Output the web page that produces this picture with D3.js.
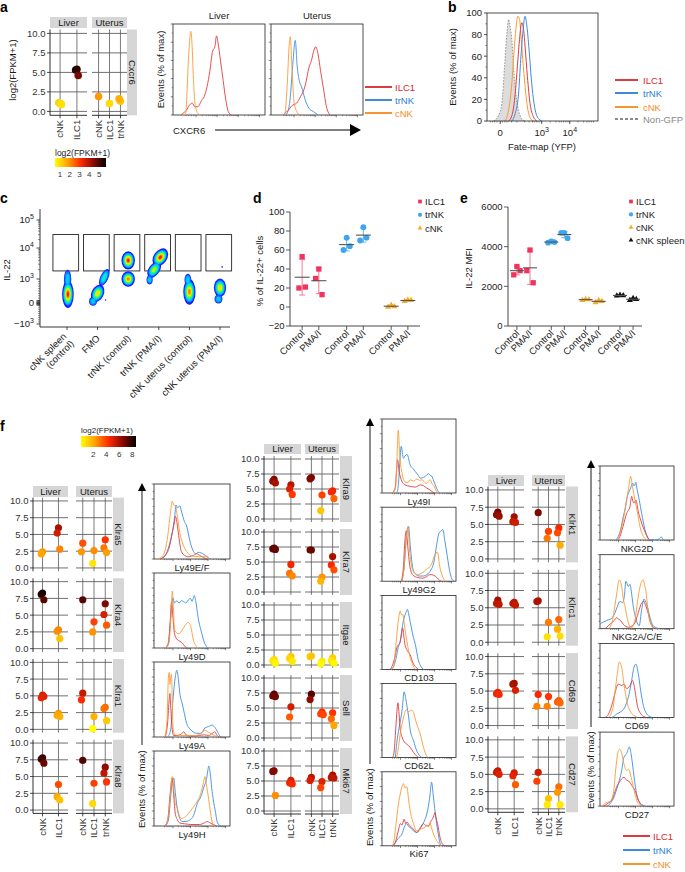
<!DOCTYPE html>
<html>
<head>
<meta charset="utf-8">
<script src="https://cdn.jsdelivr.net/npm/d3@7"></script>
<style>
  body { margin: 0; background: #fff; }
  svg { font-family: "Liberation Sans", Arial, sans-serif; }
</style>
</head>
<body>
<svg id="fig" width="685" height="872"></svg>
<script>
// ---------------- data ----------------
// panel a : RNA-seq dots (log2 FPKM+1)
const liverCats = ["cNK", "ILC1"];
const uterusCats = ["cNK", "ILC1", "trNK"];
const aGenes = ["Cxcr6"];
const aLiver = [[[1.0, 1.1, 0.9], [5.4, 5.3, 4.6]]];
const aUterus = [[[1.9], [1.0], [1.3, 1.6]]];
const aColorDomain = [0.5, 5.7];
const aColorTicks = [1, 2, 3, 4, 5];

// panel a : CXCR6 histograms, [channel %, events % of max]
const aHistLiver = {
  ILC1: [[9,0],[11,2],[14.5,5],[18,11],[21,13],[23.6,9],[27,9],[31,16],[33.8,20],[37,31],[40,48],[43,70],[45.5,75],[47.3,87],[49,79],[51.6,60],[54.5,38],[57.5,16],[60,4],[63.6,0]],
  cNK: [[11,0],[13.8,2],[15,20],[16.4,53],[18,80],[19.3,92],[20,88],[21,71],[22,45],[23,24],[24,12],[25.5,5],[27,2],[29,0]]
};
const aHistUterus = {
  ILC1: [[14,0],[15.2,2],[18.8,5],[22.4,10],[27.8,13],[32,20],[36.8,31],[41.5,53],[44,60],[46.6,71],[48.7,75],[51.3,66],[53.8,49],[56.7,31],[60.3,9],[64,0]],
  trNK: [[16,0],[17.5,2],[20.6,16],[23.5,53],[26.4,82],[28.5,53],[30.7,38],[33.2,31],[36.8,18],[41.5,7],[45.8,4],[51.3,0]],
  cNK: [[14,0],[15.2,2],[17.7,35],[19.9,79],[21,86],[22.7,53],[24.9,16],[27.8,4],[31.4,0]]
};

// panel b : fate-map histograms
const bYTicks = [0, 20, 40, 60, 80, 100];
const bXTickPos = [11.9, 49.3, 74.6];
const bXTickLabels = [["0", ""], ["10", "3"], ["10", "4"]];
const bNonGFP = [[6,0],[10.4,5],[13.4,16],[15.8,50],[17.9,81],[19.4,94],[20.9,87],[22.4,75],[23.9,50],[26,25],[28.4,10],[31.3,2],[34.3,0]];
const bCNK = [[16.4,0],[19.4,10],[22.4,35],[24.5,66],[26.3,88],[27.8,97],[29.3,94],[30.7,78],[32.2,57],[34.3,32],[36.4,13],[38.8,3],[41.8,0]];
const bILC1 = [[19.4,0],[22.4,5],[24.8,19],[26.9,44],[29,72],[31.3,91],[32.8,86],[34.3,69],[36.4,41],[38.8,16],[41.8,4],[44.8,0]];
const bTrNK = [[22.4,0],[25.4,7],[28.4,25],[30.4,57],[32.2,81],[34.3,97],[35.8,89],[37.9,66],[40,38],[42.4,16],[44.8,5],[47.8,1],[49.3,0]];

// panel c : IL-22 flow plots (y in biex display units: 3 = 10^3)
const cSamples = ["cNK spleen (control)", "FMO", "trNK (control)", "trNK (PMA/I)", "cNK uterus (control)", "cNK uterus (PMA/I)"];
const cYTicks = [-3, 0, 3, 4, 5];
const cYTickLabels = [["\u221210", "3"], ["0", ""], ["10", "3"], ["10", "4"], ["10", "5"]];
const cGate = [3.26, 4.48];
// density lobes: [dx, y, rx, ry, tilt, peak level]
const cBlobs = [
  [[0.03, 1.1, 0.19, 0.45, 0, 9], [0.02, 3.0, 0.12, 0.3, 0, 3]],
  [[0.0, 1.2, 0.2, 0.3, 25, 7], [0.22, 3.05, 0.13, 0.3, 25, 4], [-0.15, 0.2, 0.13, 0.14, 0, 3]],
  [[0.0, 3.6, 0.22, 0.3, 0, 9], [0.0, 3.0, 0.22, 0.25, 0, 8]],
  [[0.05, 3.7, 0.22, 0.32, 35, 9], [-0.15, 3.3, 0.18, 0.3, 35, 6], [-0.3, 2.9, 0.1, 0.15, 0, 3]],
  [[0.0, 1.4, 0.2, 0.42, 0, 8], [-0.05, 2.9, 0.11, 0.2, 0, 3]],
  [[0.0, 1.9, 0.2, 0.3, 0, 7], [-0.05, 0.5, 0.13, 0.15, 0, 3]]
];
const cStray = [[1, 0.26, 0.37], [5, 0.07, 3.39]];

// panel d : % IL-22+ cells
const conditions = ["Control", "PMA/I"];
const dGroups = ["ILC1", "trNK", "cNK"];
const dILC1 = [[53, 20, 21], [40, 30, 13]];
const dTrNK = [[73, 60, 64], [84, 70, 73]];
const dCNK = [[2, 0, 0.5], [7.5, 6, 7]];
const dYTicks = [-20, 0, 20, 40, 60, 80, 100];

// panel e : IL-22 MFI
const eGroups = ["ILC1", "trNK", "cNK", "cNK spleen"];
const eILC1 = [[3000, 2580, 2790], [3830, 2790, 2180]];
const eTrNK = [[4270, 4200, 4230], [4700, 4700, 4430]];
const eCNK = [[1350, 1300, 1340], [1300, 1180, 1250]];
const eCNKSpleen = [[1560, 1520, 1540], [1400, 1300, 1350]];
const eYTicks = [0, 2000, 4000, 6000];

// panel f : RNA-seq dots
const fColorDomain = [0.1, 8.6];
const fColorTicks = [2, 4, 6, 8];
const fCol1Genes = ["Klra5", "Klra4", "Klra1", "Klra8"];
const fCol1Liver = [
  [[2.4, 2.1], [6.0, 5.2, 2.8]],
  [[8.3, 8.1, 7.3], [2.8, 2.6, 1.5]],
  [[5.1, 4.7, 4.9], [2.4, 2.1, 1.9]],
  [[7.8, 7.6, 7.0], [3.8, 2.0, 1.5]]
];
const fCol1Uterus = [
  [[3.7, 2.4], [2.6, 0.7], [4.2, 3.0, 2.3]],
  [[7.3], [4.0, 2.5], [6.7, 5.1, 3.5]],
  [[5.4, 4.4], [1.9, 0.1], [3.3, 3.1, 1.3]],
  [[7.4], [4.0, 0.95], [6.4, 5.5, 4.2]]
];
const fCol2Genes = ["Klra9", "Klra7", "Itgae", "Sell", "Mki67"];
const fCol2Liver = [
  [[6.6, 6.3, 6.0], [5.7, 5.0, 4.1]],
  [[7.3, 7.2, 7.1], [4.6, 3.1, 2.7]],
  [[0.9, 0.7, 0.3], [1.4, 1.1, 0.6]],
  [[7.3, 7.0, 6.9], [5.2, 3.5]],
  [[6.7, 6.6, 2.6], [5.1, 4.7, 4.5]]
];
const fCol2Uterus = [
  [[6.9, 6.7], [4.0, 1.4], [4.7, 4.5, 3.4]],
  [[7.0, 7.0], [2.5, 1.8], [5.9, 4.5, 3.7]],
  [[1.5, 1.4], [0.6, 0.2], [1.2, 0.7, 0.3]],
  [[7.3, 6.4], [4.3, 4.0, 3.9], [4.2, 3.2, 2.1]],
  [[5.6, 5.1], [4.9, 3.9], [6.0, 5.6, 5.5]]
];
const fCol3Genes = ["Klrk1", "Klrc1", "Cd69", "Cd27"];
const fCol3Liver = [
  [[6.8, 6.4, 6.2], [6.1, 5.4, 5.3]],
  [[6.1, 5.6, 5.5], [5.8, 5.6, 5.4]],
  [[4.8, 4.6, 4.5], [6.1, 6.0, 5.1]],
  [[5.5, 5.3, 5.0], [5.2, 4.8, 3.5]]
];
const fCol3Uterus = [
  [[6.7], [4.0, 3.0], [4.5, 3.8, 2.0]],
  [[6.0, 5.9], [2.9, 0.8], [3.3, 1.9, 0.9]],
  [[4.5, 2.8], [4.2, 2.8], [3.6, 3.4, 3.3]],
  [[5.3, 4.0], [1.5, 0.6], [3.2, 2.4, 0.6]]
];

// panel f : flow histograms, [channel %, events % of max]
const hLy49EF = {
  trNK: [[8,0],[15,5],[20,15],[24,35],[27,55],[29,72],[31,68],[34,71],[36,64],[40,50],[43,44],[47,25],[51,12],[55,7],[58,9],[62,8],[66,6],[72,1],[75,0]],
  ILC1: [[8,0],[15,5],[20,18],[24,35],[27,50],[28,57],[30,50],[32,35],[36,10],[40,5],[45,3],[52,5],[56,7],[60,5],[65,2],[70,0]],
  cNK: [[5,0],[12,5],[18,30],[22,65],[24,77],[26,72],[28,71],[31,55],[34,35],[38,20],[43,10],[50,4],[60,3],[70,4],[72,0]]
};
const hLy49D = {
  trNK: [[15,0],[19,8],[22,40],[25,67],[27,60],[30,63],[33,60],[36,63],[39,62],[42,60],[45,64],[48,66],[50,62],[53,70],[55,62],[58,41],[63,19],[66,8],[69,2],[72,0]],
  ILC1: [[14,0],[19,5],[21,30],[23,61],[25,40],[27,19],[30,12],[34,9],[37,7],[40,3],[43,0]],
  cNK: [[14,0],[18,3],[21,20],[23,60],[24,76],[25,65],[27,25],[30,20],[33,19],[37,24],[41,30],[45,34],[48,30],[52,10],[56,2],[58,0]]
};
const hLy49A = {
  trNK: [[18,0],[22,10],[25,50],[28,80],[30,89],[32,78],[34,58],[37,45],[39,36],[43,18],[47,11],[50,8],[56,5],[62,5],[67,12],[72,14],[76,16],[80,13],[84,6],[87,1],[89,0]],
  ILC1: [[15,0],[18,20],[20,50],[21,58],[22,40],[24,10],[26,2],[30,2],[36,4],[39,7],[42,3],[50,1],[60,2],[66,3],[72,2],[77,5],[80,7],[83,2],[86,0]],
  cNK: [[14,0],[17,20],[19,80],[20,86],[21,70],[22,80],[23,84],[24,50],[25,15],[27,3],[35,2],[55,2],[62,5],[67,9],[72,6],[78,3],[84,0]]
};
const hLy49H = {
  trNK: [[15,0],[19,8],[22,40],[24,58],[26,64],[28,45],[31,21],[34,10],[37,6],[42,6],[47,8],[52,14],[57,30],[62,40],[66,53],[69,62],[71,75],[72,80],[74,70],[76,50],[78,35],[81,18],[83,6],[86,1],[88,0]],
  ILC1: [[14,0],[18,8],[21,40],[23,60],[24,64],[26,40],[28,17],[31,8],[34,4],[40,3],[50,2],[60,2],[66,4],[70,6],[74,4],[78,2],[82,0]],
  cNK: [[14,0],[18,8],[21,35],[23,60],[24,66],[26,50],[28,30],[30,26],[33,15],[36,10],[41,12],[47,19],[53,27],[58,35],[62,45],[65,57],[67,66],[69,55],[72,35],[74,20],[76,8],[78,1],[80,0]]
};
const hLy49I = {
  trNK: [[20,0],[22,10],[24,40],[26,63],[29,47],[31,50],[34,52],[38,38],[42,33],[45,29],[49,24],[52,20],[56,21],[58,22],[61,25],[63,26],[65,24],[67,23],[70,16],[72,11],[76,2],[78,0]],
  ILC1: [[14,0],[18,8],[20,35],[21,45],[23,30],[26,18],[31,11],[38,9],[45,8],[52,11],[56,10],[60,7],[65,4],[69,1],[72,0]],
  cNK: [[14,0],[18,5],[20,40],[22,85],[24,50],[27,27],[31,15],[35,14],[38,18],[43,16],[47,19],[51,17],[54,18],[58,14],[60,13],[63,16],[65,18],[68,12],[70,10],[74,2],[76,0]]
};
const hLy49G2 = {
  trNK: [[27,0],[30,20],[33,60],[36,74],[38,50],[42,16],[46,9],[50,7],[56,7],[61,9],[66,15],[70,25],[74,50],[77,65],[80,68],[82,70],[85,54],[88,35],[90,22],[93,7],[96,1],[98,0]],
  ILC1: [[26,0],[29,20],[31,55],[32.7,68],[35,45],[38,18],[42,8],[48,5],[55,4],[60,6],[65,9],[70,8],[74,5],[78,1],[80,0]],
  cNK: [[27,0],[30,20],[33,60],[35,74],[37,45],[40,20],[44,11],[48,9],[54,11],[60,16],[67,23],[71,35],[75,39],[78,20],[82,6],[85,1],[87,0]]
};
const hCD103 = {
  trNK: [[12,0],[15.7,4],[19,15],[22,30],[24.7,38],[27,55],[30,70],[32,76],[34.5,81],[36,75],[38,65],[42,45],[45,34],[49,13],[52,5],[54,2],[56,0]],
  ILC1: [[11,0],[13.5,4],[17,15],[20,29],[24.7,38],[26,45],[28,56],[29.5,45],[31,34],[34.5,25],[38,20],[41.7,9],[45,4],[47,2],[49,0]],
  cNK: [[13,0],[16,5],[19,35],[22,65],[24.7,79],[26,74],[28,74],[31,55],[33.6,38],[36,25],[38,16],[41,8],[42.6,4],[45,0]]
};
const hCD62L = {
  trNK: [[18,0],[20,20],[23,40],[27,63],[30,89],[32,80],[34,68],[36,55],[38,38],[42.6,23],[47,9],[51.6,2],[54,0]],
  ILC1: [[14,0],[16,5],[18,30],[20,60],[21.5,74],[23,60],[24.7,38],[27,28],[29,23],[33.6,18],[38,14],[42.6,7],[47,2],[50,0]],
  cNK: [[20,0],[22.4,15],[25,35],[27,45],[30,58],[31.4,63],[33.6,65],[36,62],[38,63],[40,64],[42.6,61],[45,52],[47,45],[51.6,32],[56,14],[60.5,2],[62,0]]
};
const hKi67 = {
  trNK: [[15,0],[18,4],[22,10],[27,16],[30,25],[33.6,30],[36,26],[38,25],[42.6,20],[47,18],[51,22],[54,27],[57,33],[60.5,43],[63,55],[65,70],[67,86],[69.5,66],[73,36],[76,16],[79,2],[81,0]],
  ILC1: [[15,0],[18,5],[22,20],[24.7,30],[27,28],[30,36],[32,30],[33.6,32],[37,28],[40,25],[44,21],[47,18],[52,25],[56,30],[60,27],[63,27],[66,33],[69.5,39],[71.7,45],[73,38],[75,30],[78.5,11],[83,1],[85,0]],
  cNK: [[13,0],[15.7,5],[19,30],[22,55],[24.7,70],[27,80],[29,84],[31,78],[33.6,80],[36,62],[38,48],[42.6,30],[47,20],[50,22],[54,23],[58,25],[60.5,27],[63,26],[65,30],[67,24],[69.5,16],[74,7],[78.5,1],[80,0]]
};
const hNKG2D = {
  trNK: [[22,0],[24.8,5],[28,15],[31.5,32],[34,42],[37,59],[40.5,68],[42,72],[44,77],[46,73],[47.3,75],[48.5,78],[49.5,72],[53,54],[56.3,36],[60.8,14],[65.3,2],[68,0],[78,0],[81,3],[83,4],[85,1],[86,0]],
  ILC1: [[24,0],[27,5],[31,18],[36,36],[40.5,45],[42.8,59],[44.5,52],[46,50],[48.6,54],[51.8,38],[55,27],[59.5,14],[64,4],[67,0]],
  cNK: [[24,0],[27,9],[31,25],[33.8,41],[36,55],[38.3,68],[40,80],[41.4,86],[43,78],[44,72],[47.3,54],[50.5,38],[54,18],[58.6,5],[62,1],[64,0]]
};
const hNKG2ACE = {
  trNK: [[0,6],[2.3,8],[6.8,10],[11.3,12],[15.8,14],[18,17],[20.5,22],[23.4,30],[27,37],[30.6,35],[33,45],[35,64],[38.3,57],[40.5,60],[43,45],[45,30],[47.3,18],[49.5,10],[53,4],[56.3,26],[59.5,40],[63,33],[65.3,25],[67.6,15],[72,4],[76.6,1],[79,0]],
  ILC1: [[6.8,0],[11.3,4],[15.8,8],[20,12],[22.5,15],[25,13],[27,12],[29.3,9],[31.5,6],[35,3],[38.3,2],[42,3],[45,5],[47.3,8],[49.5,14],[51.8,22],[54,29],[56.3,35],[59.5,37],[61,33],[63,28],[65.3,20],[67.6,10],[70,5],[72,2],[75,0]],
  cNK: [[12,0],[13.5,2],[17,12],[20,30],[23,50],[26,66],[29.3,57],[31.5,40],[33.8,30],[36,18],[38.3,8],[40.5,3],[42.8,1],[45,5],[47.3,12],[49.5,28],[51.8,44],[54,56],[56.3,64],[58.6,66],[60,60],[62,51],[65.3,22],[67.6,10],[69.8,4],[72,0]]
};
const hCD69 = {
  trNK: [[16,0],[18,1],[22,4],[27,7],[31,10],[33.8,14],[36,20],[38.3,27],[40.5,37],[42.8,50],[46,68],[48.6,72],[50,68],[51.8,59],[55,36],[58.6,16],[63,5],[67.6,1],[70,0]],
  ILC1: [[7,0],[9,1],[13.5,9],[17,20],[20,32],[24.8,45],[27,44],[29.3,43],[32.4,45],[36,39],[38.3,40],[40.5,43],[44,50],[47.3,36],[50.5,16],[55,5],[59.5,1],[62,0]],
  cNK: [[12,0],[15.8,7],[18,15],[20,32],[23.4,59],[26,75],[27.5,73],[29.3,68],[32.4,45],[36,23],[40.5,9],[44,4],[47.3,2],[50,0]]
};
const hCD27 = {
  trNK: [[9,0],[11.3,1],[15,5],[18,10],[21,18],[24.8,30],[29.3,48],[32.4,66],[36,71],[39.6,80],[41.9,71],[45,48],[48.6,21],[53,6],[58.6,1],[61,0]],
  ILC1: [[4,0],[6.8,1],[11,4],[15.8,8],[19,16],[22.5,26],[26,32],[29.3,37],[32.4,39],[36,35],[39.6,33],[42.8,28],[47.3,21],[51.8,8],[56.3,1],[58,0]],
  cNK: [[4,0],[6.8,4],[13.5,6],[18,17],[21.6,53],[24.8,75],[27,77],[29.3,71],[32.4,57],[36,48],[38.3,50],[41.4,42],[45,26],[49.5,8],[54,1],[56,0]]
};
const fHist1 = [["Ly49E/F", hLy49EF], ["Ly49D", hLy49D], ["Ly49A", hLy49A], ["Ly49H", hLy49H]];
const fHist2 = [["Ly49I", hLy49I], ["Ly49G2", hLy49G2], ["CD103", hCD103], ["CD62L", hCD62L], ["Ki67", hKi67]];
const fHist3 = [["NKG2D", hNKG2D], ["NKG2A/C/E", hNKG2ACE], ["CD69", hCD69], ["CD27", hCD27]];
const legendTypes = ["ILC1", "trNK", "cNK"];

// ---------------- styles ----------------
const lineCol = { ILC1: "#e23a3d", trNK: "#3a8de0", cNK: "#f99b36" };
const legCol = { ILC1: "#d8252a", trNK: "#2a7ed6", cNK: "#f98a1a" };
const dotCol = { ILC1: "#f0345e", trNK: "#3ea6ee", cNK: "#f6ac2a", "cNK spleen": "#111111" };
const barCol = { ILC1: "#f47a95", trNK: "#64b4f0", cNK: "#f6bf5a", "cNK spleen": "#333333" };
const dotShape = { ILC1: d3.symbolSquare, trNK: d3.symbolCircle, cNK: d3.symbolTriangle, "cNK spleen": d3.symbolTriangle };
const heat = ["#ffff00", "#ffa200", "#ff2a00", "#8c0a00", "#000000"];
const rainbow = ["#1a1aff", "#0a7cff", "#00c8ff", "#00f0c0", "#40ff40", "#c8ff00", "#ffd800", "#ff7a00", "#ff1a00"];
const INK = "#1a1a1a";
const FS = 9.5;

const svg = d3.select("#fig");
const defs = svg.append("defs");

function heatScale(dom) {
  const [lo, hi] = dom;
  return d3.scaleLinear()
    .domain(d3.range(heat.length).map(i => lo + (hi - lo) * i / (heat.length - 1)))
    .range(heat).clamp(true);
}
function text(x, y, s, size, anchor, fill) {
  return svg.append("text").attr("x", x).attr("y", y).text(s)
    .attr("text-anchor", anchor || "start").attr("fill", fill || INK)
    .style("font-size", (size || FS) + "px");
}
function rtext(x, y, s, rot, anchor, size) {
  return svg.append("text").attr("transform", `translate(${x},${y}) rotate(${rot})`)
    .text(s).attr("text-anchor", anchor || "middle").attr("fill", INK)
    .style("font-size", (size || FS) + "px");
}
function supText(sel, pair) {
  sel.append("tspan").text(pair[0]);
  if (pair[1]) sel.append("tspan").attr("dy", -4).style("font-size", "7px").text(pair[1]);
}
function panelLabel(s, x, y) {
  text(x, y, s, 14).style("font-weight", "bold").attr("fill", "#000");
}
function seg(g, x1, y1, x2, y2, col, w) {
  return g.append("line").attr("x1", x1).attr("y1", y1).attr("x2", x2).attr("y2", y2)
    .attr("stroke", col || "#222").attr("stroke-width", w || 0.8);
}

// faceted RNA-seq dot plot
function dotFacet(cfg) {
  const color = heatScale(cfg.domain);
  const ph = cfg.unit * 11;
  const xL = d3.scalePoint().domain(liverCats).range([cfg.xL, cfg.xL + cfg.wL]).padding(0.6);
  const xU = d3.scalePoint().domain(uterusCats).range([cfg.xU, cfg.xU + cfg.wU]).padding(0.6);
  const g = svg.append("g");
  const jitter = [0, -1.3, 1.3];
  [[cfg.xL, cfg.wL, "Liver"], [cfg.xU, cfg.wU, "Uterus"]].forEach(([x, w, s]) => {
    g.append("rect").attr("x", x).attr("y", cfg.stripY).attr("width", w).attr("height", cfg.stripH).attr("fill", "#d6d6d6");
    g.append("text").attr("x", x + w / 2).attr("y", cfg.stripY + cfg.stripH / 2 + 3.4)
      .attr("text-anchor", "middle").attr("fill", INK).style("font-size", FS + "px").text(s);
  });
  const breaks = [0, 2.5, 5, 7.5, 10];
  cfg.genes.forEach((gene, i) => {
    const top = cfg.top + i * cfg.pitch;
    const bottom = top + ph;
    const y = d3.scaleLinear().domain([-0.5, 10.5]).range([bottom, top]);
    [[xL, cfg.xL, cfg.wL, cfg.liver[i]], [xU, cfg.xU, cfg.wU, cfg.uterus[i]]].forEach(([xs, x0, w, vals]) => {
      g.append("g").selectAll("line").data(breaks).join("line")
        .attr("x1", x0).attr("x2", x0 + w).attr("y1", d => y(d)).attr("y2", d => y(d))
        .attr("stroke", "#4a4a4a").attr("stroke-width", 0.8);
      g.append("g").selectAll("line").data(xs.domain()).join("line")
        .attr("x1", d => xs(d)).attr("x2", d => xs(d)).attr("y1", top).attr("y2", bottom)
        .attr("stroke", "#5a5a5a").attr("stroke-width", 0.8);
      const pts = [];
      xs.domain().forEach((c, j) => vals[j].forEach((v, k) => pts.push({ c, v, k })));
      g.append("g").selectAll("circle").data(pts).join("circle")
        .attr("cx", d => xs(d.c) + jitter[d.k % 3]).attr("cy", d => y(d.v))
        .attr("r", cfg.r).attr("fill", d => color(d.v));
    });
    // y axis
    seg(g, cfg.xL, top, cfg.xL, bottom, "#1a1a1a", 0.9);
    breaks.forEach(b => {
      seg(g, cfg.xL - 3, y(b), cfg.xL, y(b), "#1a1a1a", 0.8);
      g.append("text").attr("x", cfg.xL - 4.5).attr("y", y(b) + 3.4).attr("text-anchor", "end")
        .attr("fill", "#333").style("font-size", FS + "px").text(d3.format(".1f")(b));
    });
    // right strip
    g.append("rect").attr("x", cfg.sx).attr("y", top).attr("width", cfg.sw).attr("height", ph).attr("fill", "#d6d6d6");
    g.append("text").attr("transform", `translate(${cfg.sx + cfg.sw / 2 - 3.4},${top + ph / 2}) rotate(90)`)
      .attr("text-anchor", "middle").attr("fill", INK).style("font-size", FS + "px").text(gene);
    // x axis on the last row
    if (i === cfg.genes.length - 1) {
      [[xL, cfg.xL, cfg.wL], [xU, cfg.xU, cfg.wU]].forEach(([xs, x0, w]) => {
        seg(g, x0, bottom, x0 + w, bottom, "#1a1a1a", 0.9);
        xs.domain().forEach(c => {
          seg(g, xs(c), bottom, xs(c), bottom + 3, "#1a1a1a", 0.8);
          g.append("text").attr("transform", `translate(${xs(c) + 3.4},${bottom + 4.5}) rotate(-90)`)
            .attr("text-anchor", "end").attr("fill", "#333").style("font-size", FS + "px").text(c);
        });
      });
    }
  });
}

// colour bar legend
function colorBar(id, dom, ticks, x0, x1, yTitle, yBar, hBar, yLab, titleSize) {
  const grad = defs.append("linearGradient").attr("id", id);
  const color = heatScale(dom);
  d3.range(0, 1.0001, 0.05).forEach(t => grad.append("stop").attr("offset", t)
    .attr("stop-color", color(dom[0] + t * (dom[1] - dom[0]))));
  text(x0, yTitle, "log2(FPKM+1)", titleSize);
  svg.append("rect").attr("x", x0).attr("y", yBar).attr("width", x1 - x0).attr("height", hBar).attr("fill", `url(#${id})`);
  const s = d3.scaleLinear().domain(dom).range([x0, x1]);
  ticks.forEach(t => text(s(t), yLab, t, 8, "middle", "#333"));
}

// histogram frame with curves
function histBox(b, curves, label) {
  const [x0, y0, x1, y1] = b;
  const x = d3.scaleLinear().domain([0, 100]).range([x0, x1]);
  const y = d3.scaleLinear().domain([0, 100]).range([y1, y0]);
  const g = svg.append("g");
  g.append("rect").attr("x", x0).attr("y", y0).attr("width", x1 - x0).attr("height", y1 - y0)
    .attr("fill", "none").attr("stroke", "#222").attr("stroke-width", 0.8);
  d3.range(0, 101, 10).forEach(v => seg(g, x0 - (v % 20 === 0 ? 2.2 : 1.2), y(v), x0, y(v), "#333", 0.6));
  const decades = [25, 48, 71, 94];
  decades.forEach((d, i) => {
    seg(g, x(d), y1, x(d), y1 + 2.2, "#333", 0.6);
    if (i < decades.length - 1) d3.range(2, 10).forEach(m => {
      const p = d + (decades[i + 1] - d) * Math.log10(m);
      seg(g, x(p), y1, x(p), y1 + 1.2, "#333", 0.5);
    });
  });
  [14, 17, 20, 22.5].forEach(p => seg(g, x(p), y1, x(p), y1 + 1.2, "#333", 0.5));
  const line = d3.line().x(d => x(d[0])).y(d => y(d[1])).curve(d3.curveMonotoneX);
  ["trNK", "ILC1", "cNK"].forEach(k => {
    if (!curves[k]) return;
    g.append("path").attr("d", line(curves[k])).attr("fill", "none")
      .attr("stroke", lineCol[k]).attr("stroke-width", 0.9);
  });
  if (label) text((x0 + x1) / 2, y1 + 11.5, label, FS, "middle");
}

// vertical arrow axis
function arrowAxis(x, yTop, yLineEnd, yText) {
  svg.append("path").attr("d", `M${x - 4},${yTop + 8}L${x},${yTop}L${x + 4},${yTop + 8}Z`).attr("fill", "#000");
  seg(svg, x, yTop + 6, x, yLineEnd, "#000", 0.9);
  rtext(x + 3.4, yText, "Events (% of max)", -90, "start");
}

function lineLegend(x0, x1, tx, ys, keys, labels, cols, dashes) {
  keys.forEach((k, i) => {
    svg.append("line").attr("x1", x0).attr("x2", x1).attr("y1", ys[i]).attr("y2", ys[i])
      .attr("stroke", cols[i]).attr("stroke-width", 1.8).attr("stroke-dasharray", dashes && dashes[i] ? dashes[i] : null);
    text(tx, ys[i] + 3.5, labels[i], FS, "start", cols[i]);
  });
}

// ---------------- panel a ----------------
panelLabel("a", 0, 12);
dotFacet({ genes: aGenes, liver: aLiver, uterus: aUterus, domain: aColorDomain,
  xL: 50, wL: 37, xU: 92, wU: 35, sx: 127, sw: 10, stripY: 17, stripH: 11,
  top: 29.5, unit: 7.8, pitch: 0, r: 3.8 });
rtext(16, 70, "log2(FPKM+1)", -90, "middle");
colorBar("gradA", aColorDomain, aColorTicks, 55, 106, 156, 158, 9, 176.5, 8.5);

histBox([173, 24, 265, 115], aHistLiver);
histBox([271, 24, 363, 115], aHistUterus);
text(219, 19, "Liver", FS, "middle");
text(317, 19, "Uterus", FS, "middle");
rtext(164, 69.5, "Events (% of max)", -90, "middle");
text(173, 133.5, "CXCR6", FS);
seg(svg, 215, 130, 352, 130, "#000", 1);
svg.append("path").attr("d", "M350,124L361,130L350,136Z").attr("fill", "#000");
lineLegend(365, 392, 395, [87, 100, 113], legendTypes, legendTypes, legendTypes.map(k => legCol[k]));

// ---------------- panel b ----------------
panelLabel("b", 448, 12);
{
  const x0 = 487, x1 = 598, y0 = 13, y1 = 121;
  const x = d3.scaleLinear().domain([0, 100]).range([x0, x1]);
  const y = d3.scaleLinear().domain([0, 100]).range([y1, y0]);
  const g = svg.append("g");
  const area = d3.area().x(d => x(d[0])).y0(y(0)).y1(d => y(d[1])).curve(d3.curveMonotoneX);
  const line = d3.line().x(d => x(d[0])).y(d => y(d[1])).curve(d3.curveMonotoneX);
  g.append("path").attr("d", area(bNonGFP)).attr("fill", "#dcdcdc");
  g.append("path").attr("d", line(bNonGFP)).attr("fill", "none").attr("stroke", "#8a8a8a")
    .attr("stroke-width", 0.9).attr("stroke-dasharray", "1.5,1.5");
  [[bCNK, "cNK"], [bILC1, "ILC1"], [bTrNK, "trNK"]].forEach(([d, k]) =>
    g.append("path").attr("d", line(d)).attr("fill", "none").attr("stroke", lineCol[k]).attr("stroke-width", 1));
  g.append("rect").attr("x", x0).attr("y", y0).attr("width", x1 - x0).attr("height", y1 - y0)
    .attr("fill", "none").attr("stroke", "#222").attr("stroke-width", 0.8);
  bYTicks.forEach(v => {
    seg(g, x0 - 3, y(v), x0, y(v), "#222", 0.8);
    text(x0 - 5, y(v) + 3.4, v, FS, "end", "#222");
  });
  d3.range(10, 100, 20).forEach(v => seg(g, x0 - 1.5, y(v), x0, y(v), "#222", 0.6));
  bXTickPos.forEach((p, i) => {
    seg(g, x(p), y1, x(p), y1 + 3, "#222", 0.8);
    supText(g.append("text").attr("x", x(p)).attr("y", y1 + 14.5).attr("text-anchor", "middle")
      .attr("fill", "#222").style("font-size", FS + "px"), bXTickLabels[i]);
  });
  [3, 5, 7, 9, 14, 16, 18, 22, 27, 34, 38, 41, 43, 45, 47, 57, 62, 65, 67, 69, 71, 73, 82, 87, 90, 92, 94, 96].forEach(p =>
    seg(g, x(p), y1, x(p), y1 + 1.5, "#222", 0.5));
  rtext(456, 67, "Events (% of max)", -90, "middle");
  text(542, 150, "Fate-map (YFP)", FS, "middle");
  lineLegend(615, 638, 643, [80, 93, 107, 119], ["ILC1", "trNK", "cNK", "Non-GFP"],
    ["ILC1", "trNK", "cNK", "Non-GFP"], [legCol.ILC1, legCol.trNK, legCol.cNK, "#8a8a8a"], [null, null, null, "3,2"]);
}

// ---------------- panel c ----------------
panelLabel("c", 0, 203);
{
  const cX = d3.scalePoint().domain(cSamples).range([67, 220]);
  const cY = d3.scaleLinear().domain([-3, 0, 3, 4, 5]).range([324, 303, 279, 248, 220]);
  const step = cX.step();
  const g = svg.append("g");
  // gates
  cSamples.forEach(s => g.append("rect")
    .attr("x", cX(s) - 0.46 * step).attr("y", cY(cGate[1]))
    .attr("width", 0.84 * step).attr("height", cY(cGate[0]) - cY(cGate[1]))
    .attr("fill", "none").attr("stroke", "#222").attr("stroke-width", 0.9));
  // density lobes, outer to inner
  cBlobs.forEach((blob, i) => {
    const cx = cX(cSamples[i]);
    d3.range(rainbow.length).forEach(lv => {
      blob.forEach(([dx, yv, rx, ry, tilt, peak]) => {
        if (lv >= peak) return;
        const s = lv === 0 ? 1 : 0.84 * (1 - (lv - 1) / peak);
        g.append("ellipse")
          .attr("transform", `translate(${cx + dx * step},${cY(yv)}) rotate(${tilt})`)
          .attr("rx", rx * step * s).attr("ry", ry * step * s).attr("fill", rainbow[lv]);
      });
    });
  });
  cStray.forEach(([i, dx, yv]) => g.append("circle").attr("cx", cX(cSamples[i]) + dx * step)
    .attr("cy", cY(yv)).attr("r", 0.8).attr("fill", rainbow[0]));
  // axes
  seg(g, 40, 209, 40, 327, "#222", 0.9);
  seg(g, 40, 327, 230, 327, "#222", 0.9);
  cYTicks.forEach((t, i) => {
    seg(g, 36.5, cY(t), 40, cY(t), "#222", 0.8);
    supText(g.append("text").attr("x", 34).attr("y", cY(t) + 3.4).attr("text-anchor", "end")
      .attr("fill", "#222").style("font-size", FS + "px"), cYTickLabels[i]);
  });
  const minor = [];
  d3.range(1, 10).forEach(k => { minor.push(0.3 * k); minor.push(-0.3 * k); });
  d3.range(2, 10).forEach(m => { minor.push(3 + Math.log10(m)); minor.push(4 + Math.log10(m)); });
  minor.forEach(t => seg(g, 38, cY(t), 40, cY(t), "#222", 0.5));
  d3.range(-4, 5).forEach(k => seg(g, 36.5, cY(k * 0.08), 40, cY(k * 0.08), "#222", 0.6));
  rtext(10, 270, "IL-22", -90, "middle");
  cSamples.forEach((s, i) => {
    seg(g, cX(s), 327, cX(s), 330, "#222", 0.8);
    const lines = i === 0 ? ["cNK spleen", "(control)"] : [s];
    const t = g.append("text").attr("transform", `translate(${cX(s) + (i === 0 ? 0 : 3)},${i === 0 ? 337 : 339}) rotate(-45)`)
      .attr("text-anchor", "end").attr("fill", "#222").style("font-size", FS + "px");
    lines.forEach((l, j) => t.append("tspan").attr("x", 0).attr("dy", j ? "1.1em" : 0).text(l));
  });
}

// ---------------- panels d & e ----------------
function summaryPanel(cfg) {
  const g = svg.append("g");
  const y = d3.scaleLinear().domain(cfg.yDomain).range([cfg.yBottom, cfg.yTop]);
  const xg = d3.scaleBand().domain(cfg.groups).range([cfg.xLeft, cfg.xRight]).paddingInner(cfg.pi).paddingOuter(cfg.po);
  const xc = d3.scalePoint().domain(conditions).range([0, xg.bandwidth()]).padding(cfg.pad);
  const jitter = [0, -3.2, 3.2];
  // axes
  seg(g, cfg.xLeft, cfg.yTop, cfg.xLeft, cfg.yBottom, "#333", 0.9);
  seg(g, cfg.xLeft, cfg.yBottom, cfg.xRight, cfg.yBottom, "#333", 0.9);
  cfg.yTicks.forEach(t => {
    seg(g, cfg.xLeft - 4, y(t), cfg.xLeft, y(t), "#333", 0.8);
    text(cfg.xLeft - 5.5, y(t) + 3.4, t < 0 ? "\u2212" + Math.abs(t) : t, FS, "end", "#222");
  });
  cfg.groups.forEach((grp, gi) => {
    conditions.forEach((c, ci) => {
      const cx = xg(grp) + xc(c);
      const vals = cfg.data[gi][ci];
      const m = d3.mean(vals), sd = d3.deviation(vals);
      seg(g, cx, cfg.yBottom, cx, cfg.yBottom + 4, "#333", 0.8);
      g.append("text").attr("transform", `translate(${cx + 3},${cfg.yBottom + 8}) rotate(-45)`)
        .attr("text-anchor", "end").attr("fill", "#222").style("font-size", FS + "px").text(c);
      seg(g, cx, y(m - sd), cx, y(m + sd), barCol[grp], 1);
      seg(g, cx - 3, y(m - sd), cx + 3, y(m - sd), barCol[grp], 1);
      seg(g, cx - 3, y(m + sd), cx + 3, y(m + sd), barCol[grp], 1);
      g.append("g").selectAll("path").data(vals).join("path")
        .attr("transform", (v, k) => `translate(${cx + jitter[k]},${y(v)})`)
        .attr("d", d3.symbol().type(dotShape[grp]).size(grp === "trNK" ? 26 : (grp === "ILC1" ? 28 : 16)))
        .attr("fill", dotCol[grp]);
      seg(g, cx - cfg.meanW, y(m), cx + cfg.meanW, y(m), "#555", 1.1);
    });
  });
  cfg.groups.forEach((grp, i) => {
    const ly = cfg.legY + i * cfg.legDy;
    g.append("path").attr("transform", `translate(${cfg.legX},${ly})`)
      .attr("d", d3.symbol().type(dotShape[grp]).size(grp === "trNK" ? 14 : (grp === "ILC1" ? 14 : 10)))
      .attr("fill", dotCol[grp]);
    text(cfg.legX + 5, ly + 3.4, grp, FS, "start", "#222");
  });
  rtext(cfg.titleX, (cfg.yTop + cfg.yBottom) / 2 + 2, cfg.title, -90, "middle");
}

panelLabel("d", 253, 203);
summaryPanel({ groups: dGroups, data: [dILC1, dTrNK, dCNK], yDomain: [-20, 100], yTicks: dYTicks,
  yBottom: 326, yTop: 212, xLeft: 290, xRight: 420, pi: 0.4, po: 0.16, pad: 0.3, meanW: 7.5,
  legX: 420, legY: 201.5, legDy: 13.3, titleX: 263, title: "% of IL-22+ cells" });

panelLabel("e", 460, 203);
summaryPanel({ groups: eGroups, data: [eILC1, eTrNK, eCNK, eCNKSpleen], yDomain: [0, 6000], yTicks: eYTicks,
  yBottom: 326, yTop: 207, xLeft: 508, xRight: 642, pi: 0.3, po: 0.1, pad: 0.42, meanW: 7,
  legX: 631, legY: 201.5, legDy: 12.9, titleX: 472, title: "IL-22 MFI" });

// ---------------- panel f ----------------
panelLabel("f", 0, 431);
colorBar("gradF", fColorDomain, fColorTicks, 81, 136, 433, 436, 11, 457, 8);

dotFacet({ genes: fCol1Genes, liver: fCol1Liver, uterus: fCol1Uterus, domain: fColorDomain,
  xL: 33, wL: 35, xU: 76, wU: 36, sx: 113, sw: 11, stripY: 486, stripH: 11,
  top: 497.6, unit: 6.7, pitch: 80.7, r: 3.6 });
dotFacet({ genes: fCol2Genes, liver: fCol2Liver, uterus: fCol2Uterus, domain: fColorDomain,
  xL: 264, wL: 37, xU: 305, wU: 34, sx: 340, sw: 12, stripY: 444, stripH: 10,
  top: 456, unit: 6.0, pitch: 73, r: 3.6 });
dotFacet({ genes: fCol3Genes, liver: fCol3Liver, uterus: fCol3Uterus, domain: fColorDomain,
  xL: 488, wL: 36, xU: 532, wU: 33, sx: 566, sw: 12, stripY: 475, stripH: 11,
  top: 486.5, unit: 6.9, pitch: 83.3, r: 3.6 });

arrowAxis(142, 483, 745, 828);
fHist1.forEach(([name, h], i) => histBox([154, 484 + i * 89, 230, 559 + i * 89], h, name));
arrowAxis(370, 418, 764, 846);
fHist2.forEach(([name, h], i) => histBox([382, 419 + i * 88.2, 456, 493 + i * 88.2], h, name));
arrowAxis(591, 460, 727, 809);
fHist3.forEach(([name, h], i) => histBox([600, 466 + i * 88.7, 674, 540 + i * 88.7], h, name));

lineLegend(623, 650, 653, [836, 850, 864], legendTypes, legendTypes, legendTypes.map(k => legCol[k]));
</script>
</body>
</html>
